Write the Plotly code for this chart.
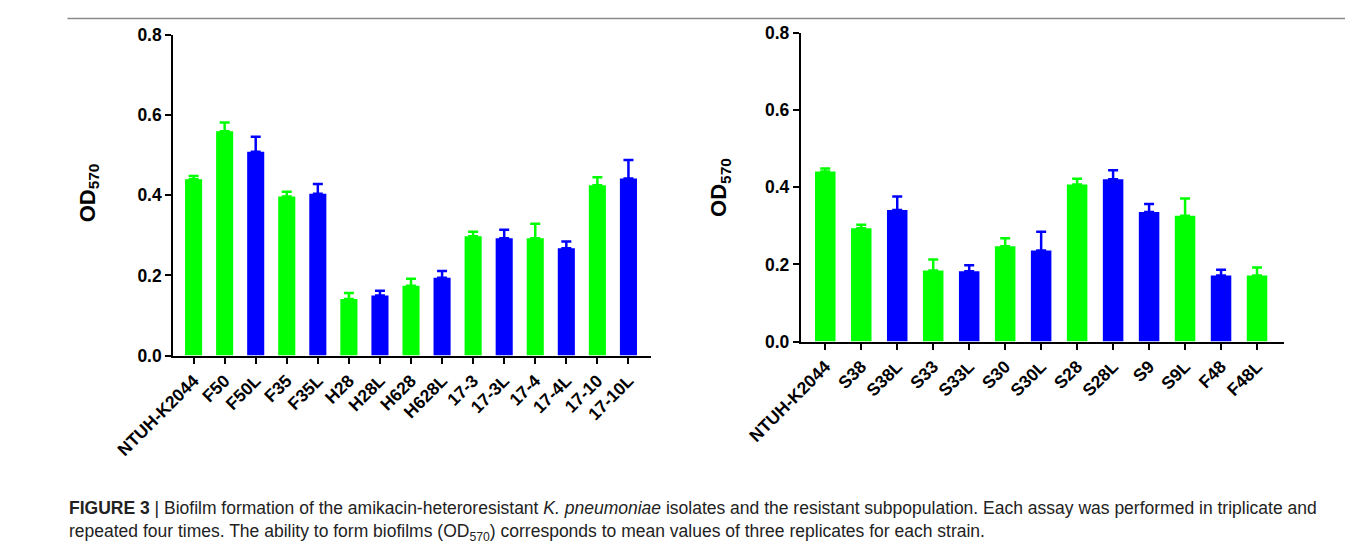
import plotly.graph_objects as go

# ---------------- data ----------------
left_strains = ["NTUH-K2044", "F50", "F50L", "F35", "F35L", "H28", "H28L", "H628",
                "H628L", "17-3", "17-3L", "17-4", "17-4L", "17-10", "17-10L"]
left_od = [0.440, 0.560, 0.509, 0.397, 0.404, 0.141, 0.150, 0.174,
           0.194, 0.298, 0.293, 0.293, 0.268, 0.425, 0.442]
left_err = [0.008, 0.022, 0.037, 0.012, 0.024, 0.015, 0.012, 0.018,
            0.017, 0.011, 0.021, 0.036, 0.017, 0.020, 0.046]
left_group = ["g", "g", "b", "g", "b", "g", "b", "g", "b", "g", "b", "g", "b", "g", "b"]

right_strains = ["NTUH-K2044", "S38", "S38L", "S33", "S33L", "S30", "S30L", "S28",
                 "S28L", "S9", "S9L", "F48", "F48L"]
right_od = [0.441, 0.294, 0.341, 0.184, 0.182, 0.247, 0.236, 0.407,
            0.421, 0.336, 0.326, 0.171, 0.171]
right_err = [0.008, 0.009, 0.035, 0.029, 0.016, 0.021, 0.049, 0.015,
             0.023, 0.021, 0.045, 0.015, 0.021]
right_group = ["g", "g", "b", "g", "b", "g", "b", "g", "b", "b", "g", "b", "g"]

y_ticks = [0.0, 0.2, 0.4, 0.6, 0.8]

COLORS = {"g": "#00ff00", "b": "#0000ff"}
FONT = "Liberation Sans"

W, H = 1353, 550
BODY = 8                      # default page margin around the figure
# observed mapping from page pixels to the photographed picture
SX, BX = 0.954, 57.4
SY, BY = 0.962, 9.3


def px(x):
    f = (x - BX) / SX - BODY
    return max(f, 0.5) / W


def py(y):
    f = (y - BY) / SY - BODY
    return 1 - max(f, 0.5) / H


fig = go.Figure()


def add_panel(strains, od, err, groups, xa, ya, width):
    for g in ["g", "b"]:
        idx = [i for i, gg in enumerate(groups) if gg == g]
        fig.add_trace(go.Bar(
            x=[strains[i] for i in idx],
            y=[od[i] for i in idx],
            error_y=dict(type="data", symmetric=False,
                         array=[err[i] for i in idx],
                         arrayminus=[0] * len(idx),
                         color=COLORS[g], thickness=2.5, width=5),
            marker=dict(color=COLORS[g], line=dict(width=0)),
            width=width,
            xaxis=xa, yaxis=ya, showlegend=False,
        ))


add_panel(left_strains, left_od, left_err, left_group, "x", "y", 0.55)
add_panel(right_strains, right_od, right_err, right_group, "x2", "y2", 0.57)

axis_common = dict(showline=True, linecolor="black", linewidth=2,
                   ticks="outside", ticklen=6, tickwidth=2, tickcolor="black",
                   showgrid=False, zeroline=False,
                   tickfont=dict(family=FONT, size=17.5, color="black", weight="bold"))

fig.update_layout(
    width=W, height=H,
    margin=dict(l=0, r=0, t=0, b=0),
    paper_bgcolor="white", plot_bgcolor="white",
    barmode="overlay",
    xaxis=dict(**axis_common, domain=[px(171), px(648)], anchor="y",
               type="category", categoryorder="array", categoryarray=left_strains,
               range=[-0.655, 14.74], tickangle=-45),
    yaxis=dict(**axis_common, domain=[py(354), py(34)], anchor="x",
               range=[0, 0.8], tickvals=y_ticks, tickformat=".1f"),
    xaxis2=dict(**axis_common, domain=[px(797), px(1279)], anchor="y2",
                type="category", categoryorder="array", categoryarray=right_strains,
                range=[-0.68, 12.75], tickangle=-45),
    yaxis2=dict(**axis_common, domain=[py(340), py(32)], anchor="x2",
                range=[0, 0.8], tickvals=y_ticks, tickformat=".1f"),
)

# y-axis titles
for xpx, ypx in [(87, 192), (717, 186)]:
    fig.add_annotation(x=px(xpx), y=py(ypx), xref="paper", yref="paper",
                       text="OD<sub>570</sub>", textangle=-90, showarrow=False,
                       font=dict(family=FONT, size=22, color="black", weight="bold"),
                       xanchor="center", yanchor="middle")

# caption
cap_font = dict(family=FONT, size=17.5, color="#222222")
fig.add_annotation(x=px(20), y=py(506), xref="paper", yref="paper",
                   xanchor="left", yanchor="middle", showarrow=False, font=cap_font,
                   text="<b>FIGURE 3</b> | Biofilm formation of the amikacin-heteroresistant "
                        "<i>K. pneumoniae</i> isolates and the resistant subpopulation. "
                        "Each assay was performed in triplicate and")
fig.add_annotation(x=px(20), y=py(531), xref="paper", yref="paper",
                   xanchor="left", yanchor="middle", showarrow=False, font=cap_font,
                   text="repeated four times. The ability to form biofilms (OD<sub>570</sub>) "
                        "corresponds to mean values of three replicates for each strain.")

# outer frame (top and right edges; continues past the bottom)
frame = dict(color="#8a8a8a", width=1.5)
fx0, fx1, fy1 = px(4), px(1350), py(6)
fig.add_shape(type="line", xref="paper", yref="paper",
              x0=fx0, x1=fx1, y0=fy1, y1=fy1, line=frame)
fig.add_shape(type="line", xref="paper", yref="paper",
              x0=fx1, x1=fx1, y0=0, y1=fy1, line=frame)

fig.write_html("out.html")
